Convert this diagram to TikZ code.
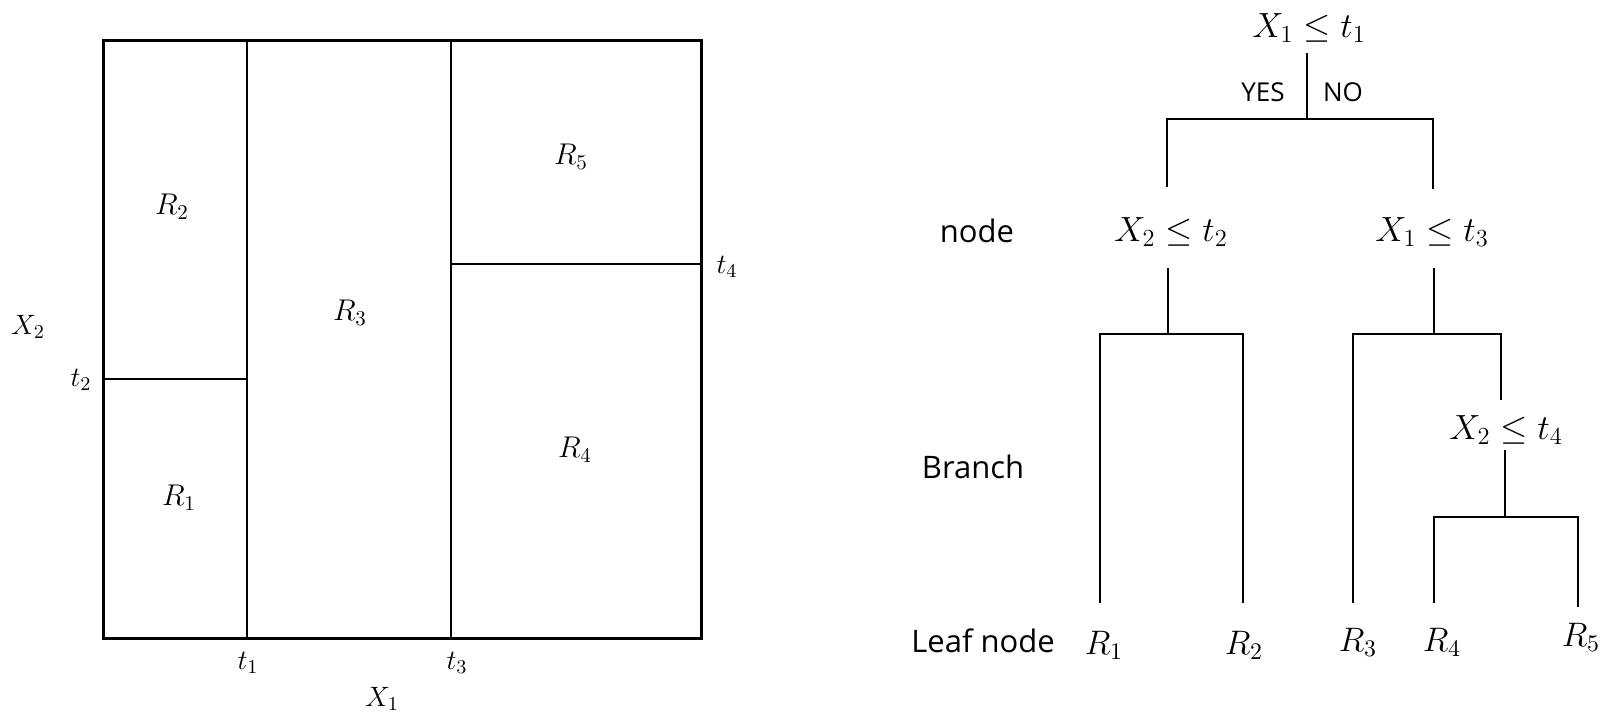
\RequirePackage{fix-cm}
\documentclass[tikz,border=0pt]{standalone}
\usepackage{fontspec}
\newfontfamily\sansf{Open Sans}
\usetikzlibrary{calc}
\begin{document}
\begin{tikzpicture}[x=0.5pt,y=-0.5pt,
  frame/.style={line width=1.5pt},
  split/.style={line width=0.9pt},
  tree/.style={line width=1pt},
  regl/.style={inner sep=0pt,font=\fontsize{15}{18}\selectfont},
  axl/.style={inner sep=0pt,font=\fontsize{14}{17}\selectfont},
  cond/.style={inner sep=0pt,font=\fontsize{17.5}{21}\selectfont},
  leaf/.style={inner sep=0pt,font=\fontsize{17}{20}\selectfont},
  side/.style={inner sep=0pt,font=\sansf\fontsize{15.5}{18}\selectfont},
  yn/.style={inner sep=0pt,font=\sansf\fontsize{13}{16}\selectfont}]
\useasboundingbox (0,0) rectangle (1606,715);

% ---------- left: partition of the feature space ----------
\draw[frame] (103,41) rectangle (701,638);
\draw[split] (247,41) -- (247,638);
\draw[split] (451,41) -- (451,638);
\draw[split] (103,379) -- (247,379);
\draw[split] (451,264) -- (701,264);

\node[regl] (lr1) at (179,498) {$R_1$};
\node[regl] (lr2) at (172,207) {$R_2$};
\node[regl] (lr3) at (350,313) {$R_3$};
\node[regl] (lr4) at (575,450) {$R_4$};
\node[regl] (lr5) at (571,157) {$R_5$};

\node[axl] (lt1) at (248,663) {$t_1$};
\node[axl] (lt3) at (457,663) {$t_3$};
\node[axl] (lt2) at (81,380) {$t_2$};
\node[axl] (lt4) at (727,267) {$t_4$};
\node[axl] (lx2) at (28,327) {$X_2$};
\node[axl] (lx1) at (382,699) {$X_1$};

% ---------- right: decision tree ----------
\node[side] (lbnode)   at (977,231) {node};
\node[side] (lbbranch) at (973,467) {Branch};
\node[side] (lbleaf)   at (983,641) {Leaf node};

\node[cond] (root) at (1309,28)  {$X_1 \leq t_1$};
\node[cond] (n2)   at (1171,232) {$X_2 \leq t_2$};
\node[cond] (n3)   at (1432,232) {$X_1 \leq t_3$};
\node[cond] (n4)   at (1506,430) {$X_2 \leq t_4$};

\node[leaf] (r1) at (1104,645) {$R_1$};
\node[leaf] (r2) at (1244,645) {$R_2$};
\node[leaf] (r3) at (1358,642) {$R_3$};
\node[leaf] (r4) at (1442,642) {$R_4$};
\node[leaf] (r5) at (1581,637) {$R_5$};

\node[yn] (yes) at (1263,92) {YES};
\node[yn] (no)  at (1343,92) {NO};

\draw[tree] ($(root)+(-2,25)$) -- ++(0,66) -| ($(n2)+(-4,-45)$);
\draw[tree] ($(root)+(-2,25)$) -- ++(0,66) -| ($(n3)+(1,-43)$);

\draw[tree] ($(n2)+(-3,36)$) -- ++(0,66) -| ($(r1)+(-4,-42)$);
\draw[tree] ($(n2)+(-3,36)$) -- ++(0,66) -| ($(r2)+(-1,-42)$);

\draw[tree] ($(n3)+(2,36)$) -- ++(0,66) -| ($(r3)+(-5,-39)$);
\draw[tree] ($(n3)+(2,36)$) -- ++(0,66) -| ($(n4)+(-5,-30)$);

\draw[tree] ($(n4)+(-1,20)$) -- ++(0,67) -| ($(r4)+(-8,-39)$);
\draw[tree] ($(n4)+(-1,20)$) -- ++(0,67) -| ($(r5)+(-3,-30)$);
\end{tikzpicture}
\end{document}
